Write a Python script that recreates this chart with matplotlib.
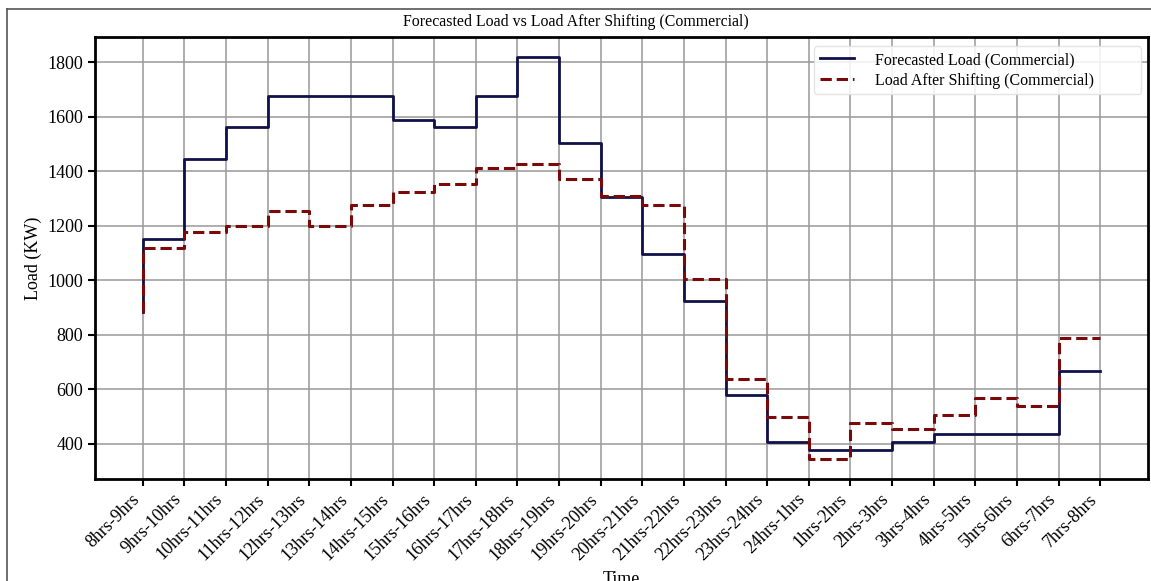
import matplotlib
matplotlib.use('Agg')
import matplotlib.pyplot as plt
from matplotlib.lines import Line2D

# hourly slots for one commercial day, starting at 8 in the morning
time_slots = ['8hrs-9hrs', '9hrs-10hrs', '10hrs-11hrs', '11hrs-12hrs', '12hrs-13hrs',
              '13hrs-14hrs', '14hrs-15hrs', '15hrs-16hrs', '16hrs-17hrs', '17hrs-18hrs',
              '18hrs-19hrs', '19hrs-20hrs', '20hrs-21hrs', '21hrs-22hrs', '22hrs-23hrs',
              '23hrs-24hrs', '24hrs-1hrs', '1hrs-2hrs', '2hrs-3hrs', '3hrs-4hrs',
              '4hrs-5hrs', '5hrs-6hrs', '6hrs-7hrs', '7hrs-8hrs']

# load in KW
forecasted_load = [883, 1152, 1445, 1561, 1676, 1676, 1676, 1589, 1561, 1676, 1820, 1502,
                   1304, 1096, 923, 578, 405, 377, 377, 405, 436, 436, 436, 665]
shifted_load = [883, 1117, 1175, 1200, 1253, 1200, 1275, 1325, 1353, 1412, 1428, 1373,
                1308, 1277, 1004, 637, 499, 344, 475, 452, 506, 566, 539, 788]

y_ticks = [400, 600, 800, 1000, 1200, 1400, 1600, 1800]

plt.rcParams['font.family'] = ['Liberation Serif', 'DejaVu Serif']

fig = plt.figure(figsize=(11.51, 5.81), dpi=100)
ax = fig.add_axes([0.0825, 0.1756, 0.9150, 0.7613])

x = list(range(len(time_slots)))
ax.step(x, forecasted_load, where='pre', color='#10104a', linewidth=2,
        label='Forecasted Load (Commercial)', zorder=3)
ax.step(x, shifted_load, where='pre', color='#7a0a0a', linewidth=2.2, linestyle='--',
        label='Load After Shifting (Commercial)', zorder=4)

ax.set_xticks(x)
ax.set_xticklabels(time_slots, rotation=45, ha='right', fontsize=13)
ax.set_yticks(y_ticks)
ax.tick_params(axis='y', labelsize=13)
ax.tick_params(length=5, width=1.5, color='black')

ax.grid(True, color='#9a9a9a', linewidth=1.4, alpha=0.8)
ax.set_axisbelow(True)
for spine in ax.spines.values():
    spine.set_linewidth(2)
    spine.set_color('black')

ax.set_ylabel('Load (KW)', fontsize=13)
ax.set_xlabel('Time', fontsize=13, va='top')
ax.xaxis.set_label_coords(0.5, -0.208)

fig.text(0.5, 1 - 22 / 581, 'Forecasted Load vs Load After Shifting (Commercial)',
         ha='center', va='center', fontsize=11.4)

# legend box stretched over the upper right corner
ax.legend(loc='upper left', bbox_to_anchor=(0.683, 0.0, 0.31, 0.978), mode='expand',
          borderaxespad=0, fontsize=11.5, handletextpad=1.34, handlelength=2.13,
          labelspacing=0.3, borderpad=0.35, framealpha=0.85, edgecolor='#e0e0e0')

# thin frame along the top and left of the figure
fig.add_artist(Line2D([6.7 / 1151, 1.0], [1 - 8.5 / 581] * 2, transform=fig.transFigure,
                      color='#555555', linewidth=1.2))
fig.add_artist(Line2D([6.7 / 1151] * 2, [0.0, 1 - 8.5 / 581], transform=fig.transFigure,
                      color='#555555', linewidth=1.2))

fig.savefig('out.png', dpi=100)
plt.close(fig)
